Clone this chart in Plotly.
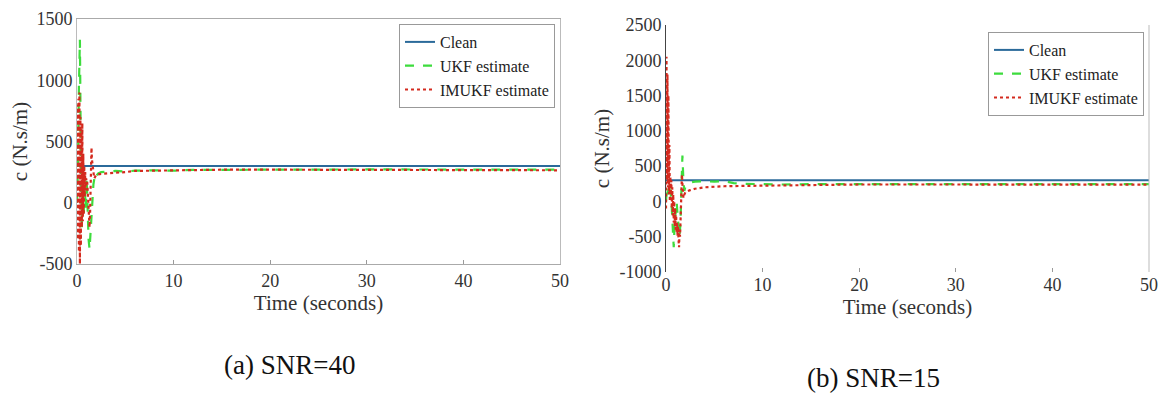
import plotly.graph_objects as go

# ---------------- data ----------------
# (a) SNR=40
t_clean_a = [0, 50]
clean_a = [300, 300]

t_ukf_a = [0, 0.1, 0.2, 0.3, 0.4, 0.5, 0.6, 0.7, 0.8, 0.9, 1.0, 1.1, 1.2, 1.3, 1.4, 1.5,
           1.6, 1.7, 1.8, 1.9, 2.0, 2.2, 2.5, 3, 4, 5, 6, 8, 10, 12, 15, 20, 30, 40, 50]
ukf_a = [0, 300, 950, 1330, 400, -200, 100, -100, 150, -50, 200, -150, -300, -380, -250, -100,
         100, 150, 200, 180, 220, 240, 250, 255, 260, 255, 262, 265, 262, 268, 270, 270, 272, 270, 270]

t_imukf_a = [0, 0.05, 0.1, 0.15, 0.2, 0.25, 0.3, 0.35, 0.4, 0.45, 0.5, 0.55, 0.6, 0.65, 0.7,
             0.75, 0.8, 0.85, 0.9, 0.95, 1.0, 1.05, 1.1, 1.15, 1.2, 1.25, 1.3, 1.35, 1.4, 1.45,
             1.5, 1.55, 1.6, 1.65, 1.7, 1.75, 1.8, 1.85, 1.9, 1.95, 2.0,
             2.5, 3, 4, 5, 6, 8, 10, 12, 15, 20, 30, 40, 50]
imukf_a = [0, 800, -300, 850, -400, 900, -500, 700, -350, 600, -200, 650, -150, 400, -100,
           300, 50, 250, 100, 200, 150, 180, 100, 50, -50, -150, -200, -100, 100, 300,
           450, 350, 300, 280, 250, 220, 200, 210, 220, 225, 230,
           235, 240, 245, 250, 260, 262, 265, 268, 270, 270, 268, 265, 265]

# (b) SNR=15
t_clean_b = [0, 50]
clean_b = [300, 300]

t_ukf_b = [0, 0.1, 0.2, 0.3, 0.4, 0.5, 0.6, 0.7, 0.8, 0.9, 1.0, 1.1, 1.2, 1.3, 1.4, 1.5,
           1.6, 1.7, 1.8, 1.9, 2.0, 2.3, 2.6, 3, 4, 5, 6, 7, 8, 10, 12, 15, 20, 25, 30, 40, 50]
ukf_b = [0, 200, 100, 250, 150, 100, -100, -400, -650, -300, -100, 0, -200, -400, -500, -300,
         200, 650, 300, 150, 200, 250, 270, 280, 285, 280, 290, 260, 250, 245, 240, 245, 245,
         250, 245, 245, 245]

t_imukf_b = [0, 0.05, 0.1, 0.15, 0.2, 0.25, 0.3, 0.35, 0.4, 0.45, 0.5, 0.55, 0.6, 0.65, 0.7,
             0.75, 0.8, 0.85, 0.9, 0.95, 1.0, 1.05, 1.1, 1.15, 1.2, 1.25, 1.3, 1.35, 1.4, 1.45,
             1.5, 1.55, 1.6, 1.65, 1.7, 1.75, 1.8, 1.85, 1.9, 1.95, 2.0,
             2.5, 3, 4, 5, 6, 8, 10, 12, 15, 20, 25, 30, 40, 50]
imukf_b = [-100, 2050, 300, 1800, 200, 1500, 100, 800, 0, 350, 100, 300, -100, 200, -200,
           100, -300, 0, -350, -100, -400, -200, -450, -300, -500, -350, -550, -650, -400, -500,
           -300, 0, 200, 380, 250, 100, 50, 80, 100, 120, 130,
           160, 180, 200, 210, 215, 220, 225, 230, 235, 240, 240, 238, 238, 238]

x_ticks = [0, 10, 20, 30, 40, 50]
y_ticks_a = [-500, 0, 500, 1000, 1500]
y_ticks_b = [-1000, -500, 0, 500, 1000, 1500, 2000, 2500]

series_names = ["Clean", "UKF estimate", "IMUKF estimate"]
captions = ["(a) SNR=40", "(b) SNR=15"]

# ---------------- style ----------------
# The page body has an 8px default margin, so the figure is drawn inside it.
OFF = 8
W, H = 1169 - 2 * OFF, 403 - 2 * OFF
FONT = "Liberation Serif"
C_CLEAN = "#2b6a9a"
C_UKF = "#3ddc3d"
C_IMUKF = "#d42a1e"

def px_x(p):
    return (p - OFF) / W

def px_y(p):
    return 1 - (p - OFF) / H

fig = go.Figure()

panels = [
    dict(t=[t_clean_a, t_ukf_a, t_imukf_a], v=[clean_a, ukf_a, imukf_a], xa="x", ya="y", legend="legend"),
    dict(t=[t_clean_b, t_ukf_b, t_imukf_b], v=[clean_b, ukf_b, imukf_b], xa="x2", ya="y2", legend="legend2"),
]
styles = [
    dict(color=C_CLEAN, width=2, dash="solid"),
    dict(color=C_UKF, width=2.2, dash="dash"),
    dict(color=C_IMUKF, width=2.2, dash="dot"),
]
for p in panels:
    for i in range(3):
        fig.add_trace(go.Scatter(
            x=p["t"][i], y=p["v"][i], mode="lines", name=series_names[i],
            line=styles[i], xaxis=p["xa"], yaxis=p["ya"], legend=p["legend"],
        ))

tickfont = dict(family=FONT, size=18, color="#333")
titlefont = dict(family=FONT, size=21, color="#333")

common_x = dict(range=[0, 50], tickvals=x_ticks, ticktext=[str(v) for v in x_ticks],
                ticks="inside", ticklen=4, tickcolor="#999", automargin=False,
                showgrid=False, zeroline=False, tickfont=tickfont,
                title=dict(text="Time (seconds)", font=titlefont, standoff=0))
common_y = dict(ticks="", showgrid=False, zeroline=False, tickfont=tickfont, automargin=False,
                title=dict(text="c (N.s/m)", font=titlefont, standoff=4))

legend_style = dict(xanchor="right", yanchor="top", bgcolor="white", bordercolor="#999",
                    borderwidth=1, font=dict(family=FONT, size=16, color="#222"),
                    itemwidth=30, tracegroupgap=0)

fig.update_layout(
    width=W, height=H, margin=dict(l=0, r=0, t=0, b=0, autoexpand=False),
    paper_bgcolor="white", plot_bgcolor="white",
    xaxis=dict(domain=[px_x(77), px_x(560)], anchor="y", showline=True, linecolor="#aaa",
               mirror=True, **common_x),
    yaxis=dict(domain=[px_y(264), px_y(19)], anchor="x", range=[-500, 1500], tickvals=y_ticks_a,
               ticktext=[str(v) for v in y_ticks_a],
               showline=True, linecolor="#bbb", mirror=True, **common_y),
    xaxis2=dict(domain=[px_x(666), px_x(1149)], anchor="y2", showline=False, **common_x),
    yaxis2=dict(domain=[px_y(272), px_y(25)], anchor="x2", range=[-1000, 2500], tickvals=y_ticks_b,
                ticktext=[str(v) for v in y_ticks_b],
                showline=True, linecolor="#444", **common_y),
    legend=dict(x=px_x(555), y=px_y(24), **legend_style),
    legend2=dict(x=px_x(1144), y=px_y(32), **legend_style),
    showlegend=True,
)

# right border of panel (b)
fig.add_shape(type="line", xref="x2 domain", yref="y2 domain", x0=1, x1=1, y0=0, y1=1,
              line=dict(color="#bbb", width=1))

fig.add_annotation(text=captions[0], xref="paper", yref="paper", x=px_x(289), y=px_y(365),
                   xanchor="center", yanchor="middle", showarrow=False,
                   font=dict(family=FONT, size=27, color="#111"))
fig.add_annotation(text=captions[1], xref="paper", yref="paper", x=px_x(873), y=px_y(378),
                   xanchor="center", yanchor="middle", showarrow=False,
                   font=dict(family=FONT, size=27, color="#111"))

fig.write_html("out.html")
